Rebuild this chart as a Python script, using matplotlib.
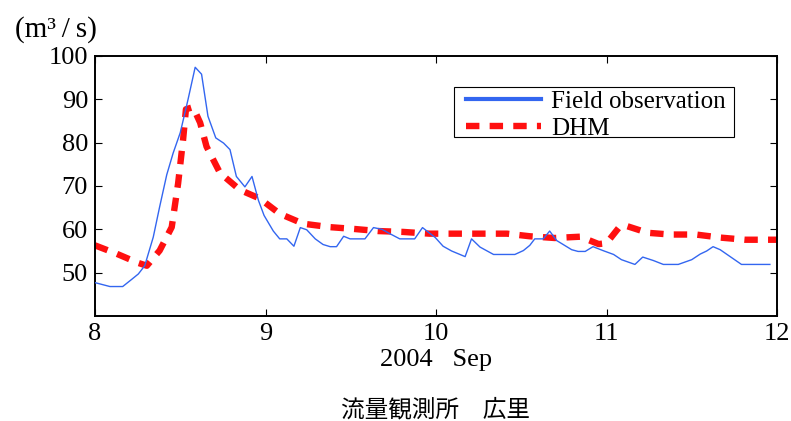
import numpy as np
import matplotlib.pyplot as plt
from matplotlib.lines import Line2D
from matplotlib.patches import Rectangle

# Discharge at the Hiroori gauging station, 8-12 Sep 2004
# time is in hours after 2004-09-08 00:00, discharge in m3/s
obs_hours = [0, 2.1, 3.9, 5.2, 6.1, 7.0, 8.2, 9.1, 10.1, 11.0, 12.0, 13.1,
             14.1, 15.0, 15.9, 17.0, 18.1, 19.0, 19.9, 21.1, 22.1, 23.0,
             23.8, 25.1, 26.0, 27.0, 28.0, 28.9, 29.8, 31.0, 32.1, 33.1,
             34.0, 35.0, 35.9, 38.0, 39.2, 40.4, 41.5, 42.9, 45.0, 46.1,
             47.9, 49.0, 50.2, 52.1, 53.0, 54.2, 56.1, 59.1, 60.3, 61.2,
             61.9, 63.1, 64.0, 65.0, 65.9, 67.1, 68.0, 69.0, 70.1, 71.5,
             73.0, 74.1, 76.0, 77.1, 78.6, 80.0, 82.1, 84.0, 85.2, 86.1,
             87.0, 88.0, 91.0, 95.0]
obs_flow = [47.7, 46.8, 46.8, 48.5, 49.7, 51.6, 58.2, 65.2, 72.6, 77.6, 82.3,
            90.0, 97.4, 95.8, 86.1, 81.1, 79.9, 78.4, 72.2, 69.8, 72.2, 66.7,
            63.2, 59.6, 57.8, 57.8, 56.1, 60.4, 59.9, 57.8, 56.5, 56.0,
            56.0, 58.4, 57.8, 57.8, 60.4, 60.0, 59.0, 57.8, 57.8, 60.4,
            58.1, 56.1, 55.0, 53.7, 57.8, 55.9, 54.2, 54.2, 55.1, 56.3,
            57.8, 57.8, 59.6, 57.4, 56.5, 55.3, 54.9, 54.9, 56.0, 55.1,
            54.2, 53.0, 51.9, 53.6, 52.8, 51.9, 51.9, 53.0, 54.3, 55.0,
            56.0, 55.3, 51.9, 51.9]

dhm_hours = [0, 3.0, 6.0, 7.3, 9.1, 10.8, 11.7, 12.4, 12.8, 13.8, 14.8, 15.7,
             17.6, 20.4, 23.2, 26.0, 29.3, 33.1, 36.4, 39.9, 43.4, 47.1,
             52.0, 58.0, 61.2, 64.7, 68.3, 70.9, 72.0, 73.7, 74.4, 77.8,
             81.0, 84.6, 88.0, 91.5, 95.0, 96.0]
dhm_flow = [56.3, 54.4, 52.3, 51.6, 55.1, 60.5, 70.6, 80.7, 87.7, 88.2, 84.6,
            79.1, 73.0, 69.1, 67.1, 63.6, 61.3, 60.5, 60.1, 59.6, 59.4, 59.0,
            59.0, 59.0, 58.4, 58.0, 58.3, 56.6, 56.8, 60.3, 61.0, 59.2,
            58.8, 58.8, 58.1, 57.6, 57.6, 57.6]

day_ticks = [8, 9, 10, 11, 12]
flow_ticks = [50, 60, 70, 80, 90, 100]

SERIF = 'Liberation Serif'
BLUE = '#3366f0'
RED = '#ff1010'
W, H = 791, 421

obs_day = 8 + np.array(obs_hours) / 24.0
dhm_day = 8 + np.array(dhm_hours) / 24.0

fig = plt.figure(figsize=(W / 100, H / 100), dpi=100)
fig.subplots_adjust(left=95 / W, right=777 / W,
                    top=1 - 56 / H, bottom=1 - 316 / H)
ax = fig.add_subplot(111)

ax.plot(obs_day, obs_flow, color=BLUE, lw=1.0, zorder=3)
ax.plot(dhm_day, dhm_flow, color=RED, lw=4.6, dashes=(2.1, 1.6),
        dash_capstyle='butt', zorder=2)

ax.set_xlim(8, 12)
ax.set_ylim(40, 100)
ax.set_xticks(day_ticks)
ax.set_xticklabels([str(d) for d in day_ticks])
ax.set_yticks(flow_ticks)
ax.set_yticklabels([str(v) for v in flow_ticks])

for side in ax.spines.values():
    side.set_linewidth(1.4)
ax.tick_params(direction='in', length=5, width=0.8, top=True, right=True,
               labelsize=19, pad=5)
for lab in ax.get_xticklabels() + ax.get_yticklabels():
    lab.set_family(SERIF)

ax.set_xlabel('2004   Sep', family=SERIF, fontsize=19, labelpad=3)

# legend without its own frame, the box is drawn separately so the
# padding can be wider than it is tall
handles = [Line2D([], [], color=BLUE, lw=3.0),
           Line2D([], [], color=RED, lw=4.6, dashes=(2.1, 1.6),
                  dash_capstyle='butt')]
leg = fig.legend(handles, ['Field observation', 'DHM'],
                 loc='upper left', bbox_to_anchor=(466 / W, 1 - 90 / H),
                 prop={'family': SERIF, 'size': 18}, frameon=False,
                 handlelength=3.0, handletextpad=0.4, borderpad=0,
                 labelspacing=0.2, borderaxespad=0)
fig.add_artist(Rectangle((454 / W, 1 - 137 / H), 280 / W, 50 / H,
                         transform=fig.transFigure, fill=True,
                         facecolor='white', edgecolor='black', lw=0.8,
                         zorder=4))
leg.set_zorder(5)

fig.text(97 / W, 1 - 30 / H, '(m³\u2009/\u2009s)',
         family=[SERIF, 'DejaVu Serif'], fontsize=21,
         ha='right', va='center')
fig.text(436 / W, 1 - 410 / H, '流量観測所\u3000広里',
         family=['Noto Sans CJK JP', 'DejaVu Sans'], fontsize=17,
         ha='center', va='center')

fig.savefig('out.png', dpi=100)
